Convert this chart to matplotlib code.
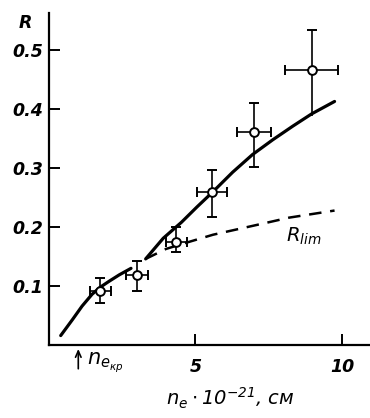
import matplotlib
matplotlib.use("Agg")
import matplotlib.pyplot as plt

plt.rcParams['font.family'] = ['DejaVu Sans']
plt.rcParams['font.style'] = 'italic'
plt.rcParams['mathtext.default'] = 'it'

# экспериментальные точки
n_exp = [1.75, 3.0, 4.35, 5.58, 6.99, 8.97]
R_exp = [0.092, 0.119, 0.175, 0.259, 0.361, 0.466]
n_err = [0.35, 0.37, 0.37, 0.51, 0.58, 0.9]
R_err_up = [0.021, 0.023, 0.025, 0.038, 0.049, 0.068]
R_err_down = [0.021, 0.027, 0.017, 0.042, 0.059, 0.0]
R_tail_last = 0.078  # нижний отрезок последней точки, без засечки

# сплошная кривая (два участка)
n_fit1 = [0.4, 0.8, 1.13, 1.47, 1.75, 2.05, 2.4, 2.8]
R_fit1 = [0.016, 0.043, 0.066, 0.086, 0.098, 0.108, 0.119, 0.13]
n_fit2 = [3.3, 3.9, 4.52, 5.05, 5.58, 6.27, 6.95, 7.64, 8.32, 8.97, 9.75]
R_fit2 = [0.146, 0.181, 0.208, 0.234, 0.259, 0.293, 0.323, 0.348, 0.371, 0.392, 0.413]

# пунктир R_lim
n_lim = [3.3, 4.0, 4.79, 5.6, 6.5, 7.4, 8.2, 9.75]
R_lim = [0.146, 0.163, 0.175, 0.187, 0.197, 0.207, 0.216, 0.228]

n_cr = 1.0

fig = plt.figure(figsize=(3.7, 4.18), dpi=100)
ax = fig.add_axes([49 / 370, 1 - 345 / 418, 1 - 49 / 370, (345 - 13) / 418])

ax.plot(n_fit1, R_fit1, color='black', lw=2.3, solid_capstyle='round', solid_joinstyle='round')
ax.plot(n_fit2, R_fit2, color='black', lw=2.3, solid_capstyle='round', solid_joinstyle='round')
ax.plot(n_lim, R_lim, color='black', lw=1.8, dashes=(5, 3.5))

ax.errorbar(n_exp, R_exp, xerr=n_err, yerr=[R_err_down, R_err_up],
            fmt='o', color='black', ms=6.3, mfc='white', mec='black', mew=1.4,
            elinewidth=1.2, capsize=3.6, capthick=1.5, zorder=5)
ax.vlines(n_exp[-1], R_exp[-1] - R_tail_last, R_exp[-1], color='black', lw=1.2, zorder=4)

ax.set_xlim(0, 10.96)
ax.set_ylim(0, 0.563)
ax.set_xticks([5, 10])
ax.set_yticks([0.1, 0.2, 0.3, 0.4, 0.5])
ax.set_yticklabels(['0.1', '0.2', '0.3', '0.4', '0.5'])
for s in ['top', 'right']:
    ax.spines[s].set_visible(False)
for s in ['left', 'bottom']:
    ax.spines[s].set_linewidth(1.6)
ax.tick_params(axis='both', direction='in', length=8, width=1.4, labelsize=12.5)
ax.tick_params(axis='y', pad=4)
ax.tick_params(axis='x', pad=9)
for lab in ax.get_xticklabels() + ax.get_yticklabels():
    lab.set_fontweight('bold')

# подписи
fig.text(25 / 370, 1 - 23 / 418, 'R', fontsize=12.5, fontweight='bold',
         ha='center', va='center')
ax.text(8.1, 0.185, '$R_{lim}$', fontsize=14, ha='left', va='center')
ax.annotate('', xy=(n_cr, -0.002), xytext=(n_cr, -0.045),
            arrowprops=dict(arrowstyle='->,head_length=0.45,head_width=0.2', lw=1.2, color='black'),
            annotation_clip=False)
ax.text(1.3, -0.03, '$n_{e_{кр}}$', fontsize=15, ha='left', va='center')
fig.text(230 / 370, 1 - 398 / 418, r'$n_e\cdot10^{-21}$, см', fontsize=14,
         ha='center', va='center')

fig.savefig('out.png', dpi=100)
